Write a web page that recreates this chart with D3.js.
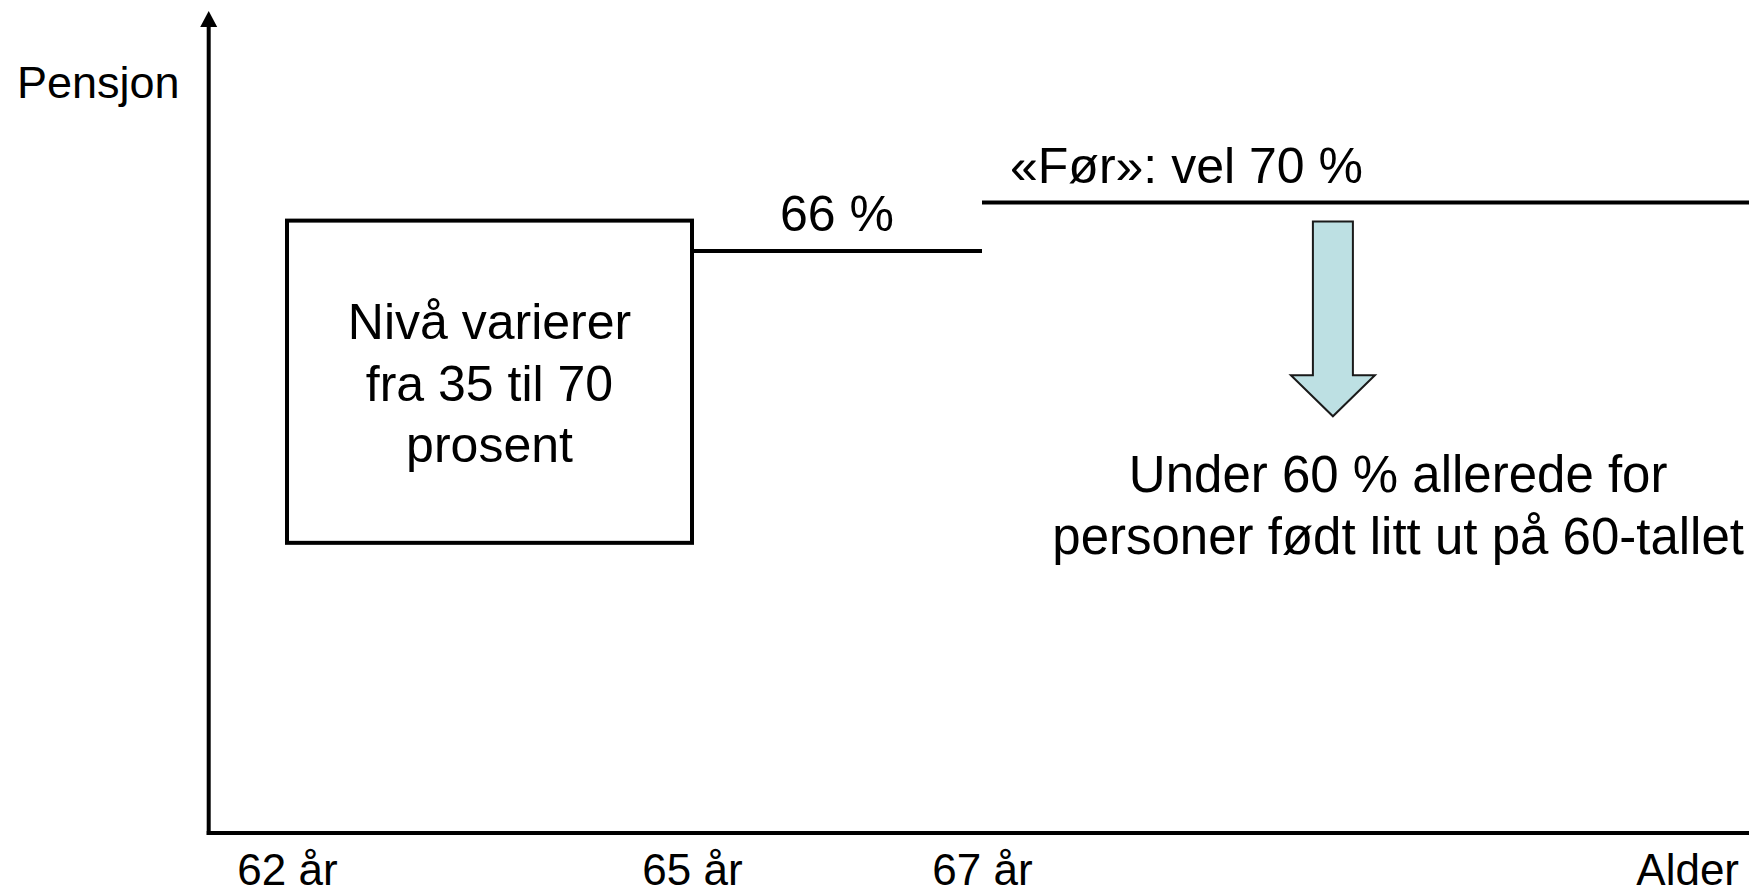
<!DOCTYPE html>
<html>
<head>
<meta charset="utf-8">
<script src="https://cdn.jsdelivr.net/npm/d3@7/dist/d3.min.js"></script>
<style>
    body { margin: 0; background: #fff; }
    svg { display: block; font-family: "Liberation Sans", Arial, sans-serif; }
</style>
</head>
<body>
<div id="chart"></div>
<script>
// ages on the x axis
let tickAges = [62, 65, 67];
let tickLabels = ["62 år", "65 år", "67 år"];

// box for early retirement (62-65), level in schematic pension units (0-100)
let boxAges = [62, 65];
let boxLevels = [35.3, 74.5];
let boxLines = ["Nivå varierer", "fra 35 til 70", "prosent"];

// flat level segments after 65
let segStart = [65, 67];
let segEnd = [67, 72.4];
let segLevel = [70.8, 76.7];
let segLabels = ["66 %", "«Før»: vel 70 %"];

// down arrow
let arrowAge = 69.42;
let arrowLevels = [74.4, 55.7, 50.7];   // shaft top, head base, tip
let noteAge = 69.87;
let noteLines = ["Under 60 % allerede for", "personer født litt ut på 60-tallet"];

let width = 1749,
    height = 895;

let svg = d3.select("#chart")
    .append("svg")
    .attr("width", width)
    .attr("height", height);

let x = d3.scaleLinear()    //piecewise, the picture is a sketch so the spacing is not even
    .domain([62, 65, 67])
    .range([287, 692, 982]);

let y = d3.scaleLinear()
    .domain([0, 100])
    .range([833, 11]);

let xAxisStart = 61.42,
    xAxisEnd = 72.4;

// y axis with arrowhead
svg.append("line")
    .attr("x1", x(xAxisStart)).attr("x2", x(xAxisStart))
    .attr("y1", y(0) + 2).attr("y2", y(100) + 14)
    .attr("stroke", "#000")
    .attr("stroke-width", 4);

svg.append("path")
    .attr("d", "M" + x(xAxisStart) + "," + y(100) +
        "L" + (x(xAxisStart) - 8.5) + "," + (y(100) + 16) +
        "L" + (x(xAxisStart) + 8.5) + "," + (y(100) + 16) + "Z")
    .attr("fill", "#000");

// x axis with arrowhead
svg.append("line")
    .attr("x1", x(xAxisStart) - 2).attr("x2", x(xAxisEnd) - 14)
    .attr("y1", y(0)).attr("y2", y(0))
    .attr("stroke", "#000")
    .attr("stroke-width", 4);

svg.append("path")
    .attr("d", "M" + (x(xAxisEnd) + 2) + "," + y(0) +
        "L" + (x(xAxisEnd) - 14) + "," + (y(0) - 8) +
        "L" + (x(xAxisEnd) - 14) + "," + (y(0) + 8) + "Z")
    .attr("fill", "#000");

// tick labels via axis, no tick lines
let xAxis = d3.axisBottom(x)
    .tickValues(tickAges)
    .tickFormat(function(d, i) { return tickLabels[i]; })
    .tickSize(0)
    .tickPadding(21);

svg.append("g")
    .attr("transform", "translate(0," + y(0) + ")")
    .call(xAxis)
    .call(function(g) { g.select(".domain").remove(); })
    .selectAll("text")
    .attr("font-family", "Liberation Sans, Arial, sans-serif")
    .attr("font-size", 44)
    .attr("fill", "#000");

svg.append("text")
    .text("Alder")
    .attr("x", 1739)
    .attr("y", 885)
    .attr("text-anchor", "end")
    .attr("font-size", 44);

svg.append("text")
    .text("Pensjon")
    .attr("x", 17)
    .attr("y", 98)
    .attr("font-size", 45);

// the box
svg.append("rect")
    .attr("x", x(boxAges[0]))
    .attr("y", y(boxLevels[1]))
    .attr("width", x(boxAges[1]) - x(boxAges[0]))
    .attr("height", y(boxLevels[0]) - y(boxLevels[1]))
    .attr("fill", "none")
    .attr("stroke", "#000")
    .attr("stroke-width", 4);

let boxMid = (y(boxLevels[0]) + y(boxLevels[1])) / 2;

svg.selectAll("text.box-text")
    .data(boxLines)
    .enter()
    .append("text")
    .attr("class", "box-text")
    .text(function(d) { return d; })
    .attr("x", (x(boxAges[0]) + x(boxAges[1])) / 2)
    .attr("y", function(d, i) { return boxMid + 19 + (i - 1) * 61.5; })
    .attr("text-anchor", "middle")
    .attr("font-size", 50);

// level lines and labels
svg.selectAll("line.level")
    .data(segLevel)
    .enter()
    .append("line")
    .attr("class", "level")
    .attr("x1", function(d, i) { return x(segStart[i]); })
    .attr("x2", function(d, i) { return x(segEnd[i]); })
    .attr("y1", function(d) { return y(d); })
    .attr("y2", function(d) { return y(d); })
    .attr("stroke", "#000")
    .attr("stroke-width", 4);

svg.selectAll("text.level-label")
    .data(segLabels)
    .enter()
    .append("text")
    .attr("class", "level-label")
    .text(function(d) { return d; })
    .attr("x", function(d, i) { return i === 0 ? (x(segStart[i]) + x(segEnd[i])) / 2 : x(segStart[i]) + 28; })
    .attr("y", function(d, i) { return y(segLevel[i]) - 20; })
    .attr("text-anchor", function(d, i) { return i === 0 ? "middle" : "start"; })
    .attr("font-size", 50);

// block arrow pointing down
let ax = x(arrowAge),
    shaftHalf = 20,
    headHalf = 42;

svg.append("path")
    .attr("d", "M" + (ax - shaftHalf) + "," + y(arrowLevels[0]) +
        "L" + (ax + shaftHalf) + "," + y(arrowLevels[0]) +
        "L" + (ax + shaftHalf) + "," + y(arrowLevels[1]) +
        "L" + (ax + headHalf) + "," + y(arrowLevels[1]) +
        "L" + ax + "," + y(arrowLevels[2]) +
        "L" + (ax - headHalf) + "," + y(arrowLevels[1]) +
        "L" + (ax - shaftHalf) + "," + y(arrowLevels[1]) + "Z")
    .attr("fill", "#bde0e3")
    .attr("stroke", "#1a1a1a")
    .attr("stroke-width", 2);

svg.selectAll("text.note")
    .data(noteLines)
    .enter()
    .append("text")
    .attr("class", "note")
    .text(function(d) { return d; })
    .attr("x", x(noteAge))
    .attr("y", function(d, i) { return y(arrowLevels[2]) + 76 + i * 62; })
    .attr("text-anchor", "middle")
    .attr("font-size", 51);
</script>
</body>
</html>
